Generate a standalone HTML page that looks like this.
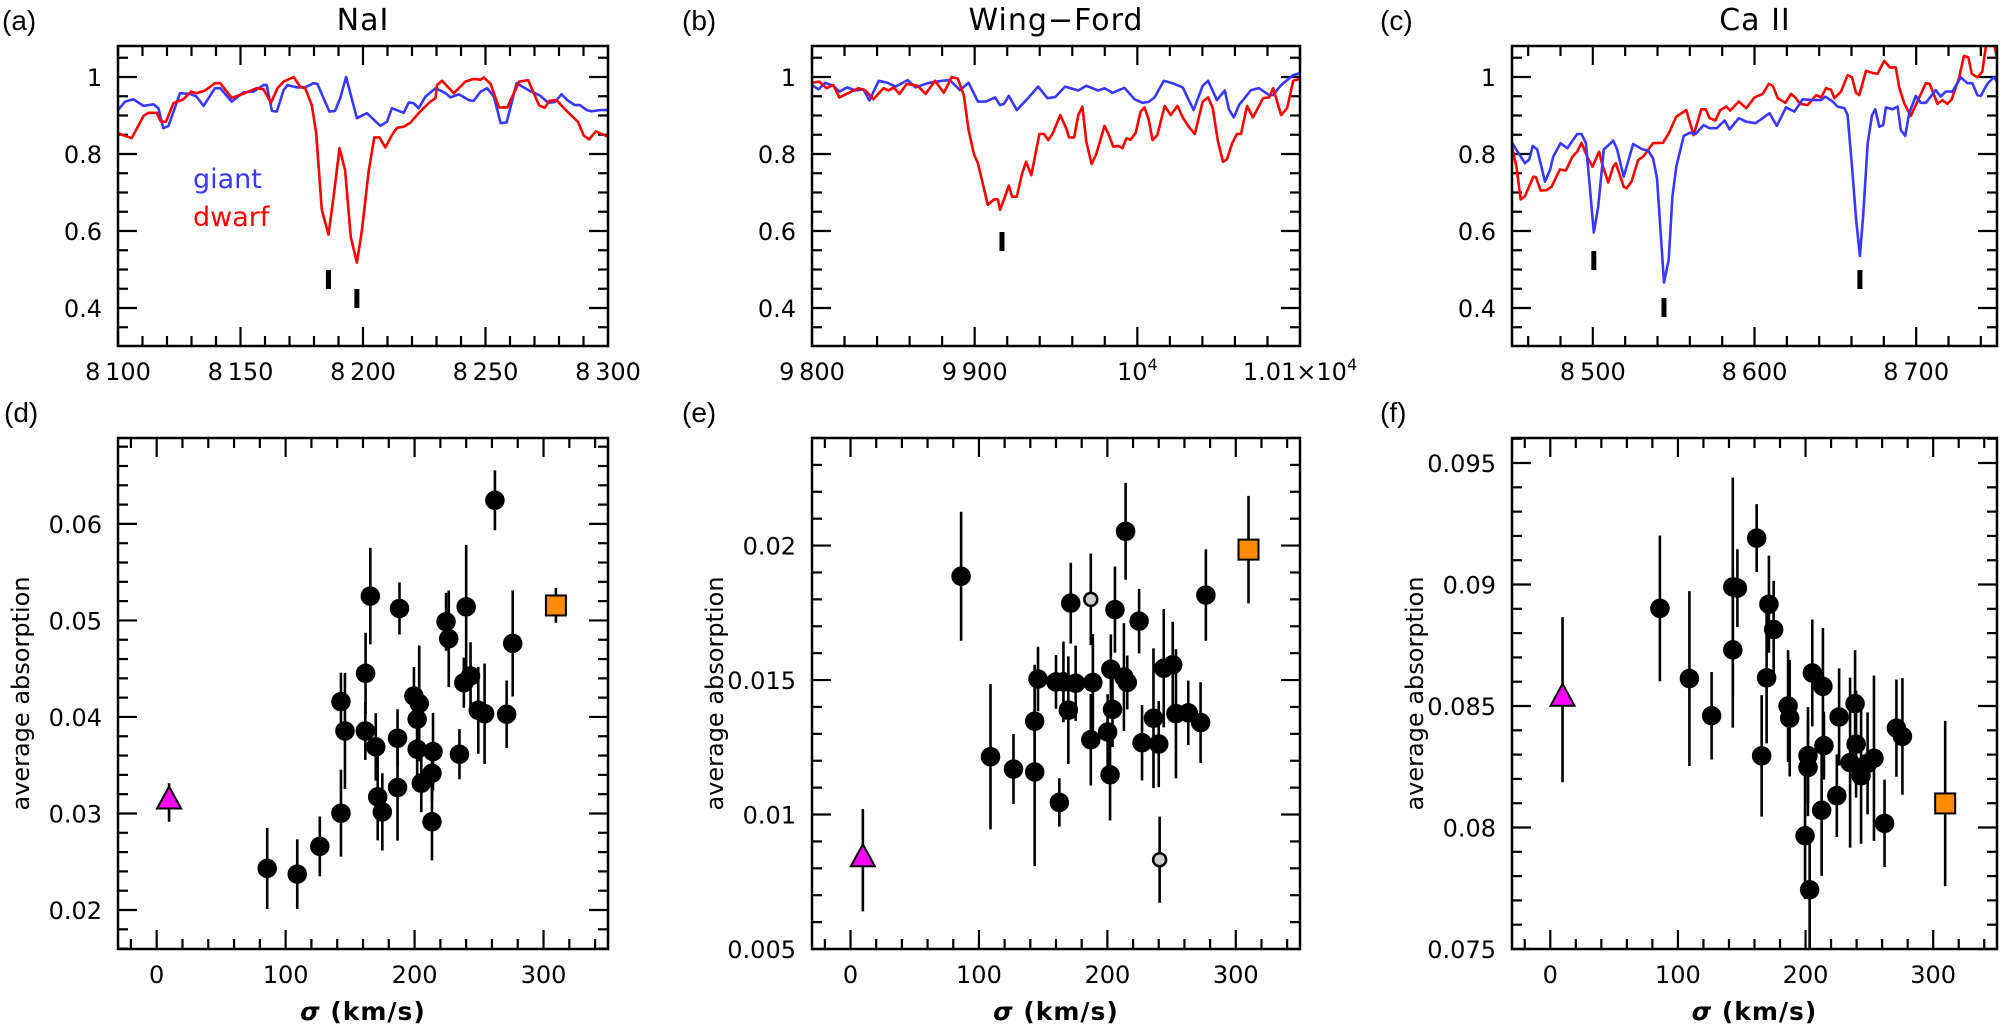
<!DOCTYPE html>
<html><head><meta charset="utf-8"><title>Spectral features figure</title>
<style>
html,body{margin:0;padding:0;background:#fff;}
svg{display:block;font-family:"DejaVu Sans","Liberation Sans",sans-serif;}
</style></head>
<body>
<svg id="chart" xmlns="http://www.w3.org/2000/svg" width="2006" height="1031" viewBox="0 0 2006 1031">
<rect x="0" y="0" width="2006" height="1031" fill="#fff"/>
</svg>
<script>
// ---------- panel (a) Na I ----------
const naWave = [8100,8102.9,8106.3,8110.4,8114.5,8116.5,8118.5,8120.6,8125.3,8129.4,8132.1,8134.9,8139.6,8141.7,8146.4,8151.2,8155.3,8159.4,8160.7,8162.8,8164.8,8167.6,8169.2,8173,8176.4,8179.8,8181.4,8186.3,8188.6,8190.7,8193.1,8197.5,8201.6,8207.1,8209.8,8211.8,8216.6,8218.7,8220.7,8222.7,8225.5,8229.6,8233.7,8235.7,8239.1,8243.2,8245.2,8248,8250.7,8253.4,8256.2,8258.6,8262.7,8268.1,8272.2,8275.6,8278.3,8281,8283.8,8286.5,8288.5,8291.3,8293.3,8296.7,8300];
const naGiant = [0.914,0.936,0.942,0.925,0.929,0.919,0.867,0.873,0.958,0.956,0.949,0.925,0.971,0.971,0.936,0.960,0.962,0.979,0.979,0.912,0.910,0.966,0.979,0.973,0.973,0.984,0.982,0.910,0.912,0.945,1.0,0.893,0.906,0.873,0.884,0.919,0.907,0.934,0.932,0.919,0.949,0.971,0.958,0.947,0.955,0.940,0.938,0.962,0.971,0.949,0.880,0.882,0.984,0.964,0.952,0.933,0.935,0.955,0.938,0.927,0.927,0.914,0.911,0.914,0.914];
const naDwarfWave = [8100,8105.6,8110.4,8112.4,8115.8,8117.5,8119.6,8122.6,8126.7,8129.7,8132.1,8135.5,8139.6,8141.7,8146.4,8150.5,8156.6,8159.4,8162.4,8165.1,8167.6,8171.7,8174.3,8176.4,8179.1,8180.9,8183.2,8185.9,8188,8190.4,8192.7,8195,8197.5,8199.6,8202.3,8204.6,8206.7,8209.1,8211.8,8213.9,8216.6,8219.3,8222.7,8227.5,8229.6,8230.2,8232.3,8237.1,8241.8,8245.2,8248,8249.3,8252.1,8255.5,8258.9,8263.7,8267.4,8271.9,8274.2,8276,8279,8282.4,8287.8,8290.1,8292.3,8295,8300];
const naDwarf = [0.854,0.841,0.899,0.907,0.907,0.884,0.884,0.932,0.942,0.962,0.958,0.965,0.984,0.984,0.946,0.955,0.971,0.968,0.933,0.971,0.988,1.0,0.975,0.971,0.927,0.854,0.655,0.591,0.689,0.815,0.758,0.584,0.518,0.603,0.754,0.843,0.843,0.817,0.849,0.868,0.871,0.881,0.906,0.936,0.945,0.979,0.990,0.958,0.988,0.995,0.993,0.999,0.982,0.921,0.921,0.988,0.992,0.926,0.920,0.938,0.940,0.916,0.883,0.848,0.838,0.859,0.845];
const naMarks = [8185.9,8197.5];

// ---------- panel (b) Wing-Ford ----------
const wfGiantWave = [9800,9804,9808.1,9813.1,9816.8,9821.7,9826.7,9831.6,9835.3,9841,9846.4,9851.4,9858.8,9863.7,9871.1,9879.8,9884.7,9890.9,9896.3,9902,9906.9,9912.6,9915.6,9918,9921,9925.9,9932.8,9939,9944.7,9949.6,9955.6,9963.7,9968.6,9976,9979.8,9984.7,9992.1,9998.3,10003.2,10006.9,10010.6,10016.3,10021.7,10027.9,10034.6,10040.2,10043.5,10048.9,10053.8,10056.3,10059.3,10062.5,10069.9,10074.8,10081,10083.5,10088.4,10095.8,10100];
const wfGiant = [0.979,0.968,0.985,0.977,0.962,0.973,0.965,0.968,0.939,0.990,0.985,0.975,0.992,0.973,0.984,0.990,0.992,0.966,0.985,0.936,0.936,0.947,0.927,0.930,0.951,0.914,0.945,0.975,0.945,0.948,0.975,0.965,0.977,0.965,0.971,0.959,0.972,0.942,0.933,0.935,0.947,0.990,0.984,0.973,0.914,0.977,0.990,0.940,0.965,0.916,0.895,0.927,0.966,0.971,0.953,0.953,0.979,1.005,1.01];
const wfDwarfWave = [9800,9804.4,9808.9,9813.1,9816.8,9824.2,9828.6,9832.8,9837.8,9843.9,9847.2,9850.1,9853.8,9858.3,9864.9,9869.9,9875.6,9881,9885.9,9889.6,9893.3,9896.3,9899.5,9902,9905.7,9908.1,9911.9,9914.3,9915.6,9918,9921,9923,9925.9,9929.1,9931.6,9934.8,9939.8,9942.7,9945.2,9948.1,9952.6,9956.3,9958,9961.2,9963.7,9966.2,9968.6,9971.9,9974.8,9979.8,9982.2,9985.2,9988.4,9990.9,9993.3,9995.8,9999,10002,10004.4,10006.9,10009.4,10012.3,10016.8,10020.5,10024.7,10027.9,10031.6,10035.3,10040.2,10043.5,10046.4,10049.4,10052.6,10055.1,10058.3,10061.2,10063.7,10067.4,10071.1,10074.8,10077.3,10081,10083.5,10088.4,10092.1,10095.8,10100];
const wfDwarf = [0.985,0.988,0.971,0.979,0.947,0.962,0.971,0.965,0.942,0.971,0.965,0.973,0.956,0.982,0.977,0.956,0.990,0.959,1.0,0.996,0.953,0.862,0.800,0.776,0.711,0.668,0.682,0.682,0.655,0.681,0.718,0.689,0.689,0.748,0.780,0.745,0.852,0.852,0.836,0.854,0.901,0.867,0.843,0.843,0.901,0.923,0.832,0.774,0.800,0.873,0.852,0.819,0.821,0.815,0.841,0.837,0.855,0.910,0.921,0.890,0.836,0.849,0.925,0.901,0.925,0.895,0.871,0.852,0.936,0.947,0.919,0.836,0.780,0.786,0.828,0.852,0.852,0.925,0.895,0.925,0.945,0.947,0.971,0.901,0.919,0.990,0.995];
const wfMarks = [9916.8];

// ---------- panel (c) Ca II ----------
const caGiantWave = [8450,8458,8460.7,8462.8,8465.6,8470.4,8473.5,8475.5,8480,8484.2,8490.3,8493,8495.7,8498.1,8500.6,8503.3,8506.8,8510.5,8512.6,8515,8519.1,8524.9,8530.7,8534.2,8537.2,8539.7,8544,8546.9,8549.2,8551.6,8556.2,8559.9,8563.6,8568.5,8572.2,8576.7,8581.5,8584.6,8590.3,8594.9,8600.6,8605.1,8609.3,8613.8,8619.5,8624.7,8629.8,8636,8641.2,8643.8,8648.4,8651.4,8655.6,8657.6,8660.3,8662.8,8665.2,8667.3,8670,8672.7,8674.7,8677.2,8679.6,8681.3,8685.4,8688.5,8690.5,8693.2,8695.7,8699.8,8702.9,8706,8712.1,8715.2,8718.3,8722.4,8727.6,8731.7,8734.8,8737.9,8739.9,8744,8748.1,8750];
const caGiant = [0.829,0.776,0.786,0.821,0.812,0.728,0.758,0.793,0.828,0.815,0.852,0.852,0.828,0.715,0.596,0.663,0.812,0.826,0.835,0.812,0.741,0.826,0.812,0.809,0.789,0.737,0.466,0.525,0.689,0.767,0.847,0.855,0.852,0.875,0.867,0.867,0.887,0.864,0.893,0.884,0.880,0.893,0.906,0.873,0.921,0.910,0.942,0.940,0.940,0.949,0.936,0.923,0.919,0.901,0.767,0.633,0.535,0.645,0.828,0.901,0.916,0.871,0.875,0.921,0.916,0.923,0.862,0.847,0.906,0.951,0.933,0.933,0.966,0.949,0.962,0.962,0.999,0.984,0.984,0.953,0.951,0.982,1.0,0.988];
const caDwarfWave = [8450,8452.9,8455.3,8458,8463.2,8464.8,8467.7,8471.4,8474.5,8479.6,8483.3,8487.4,8490.3,8493,8496.5,8499.8,8503.9,8506,8509.5,8512.6,8514.2,8519.1,8520.8,8523.9,8528,8531.5,8537.2,8543.4,8547.1,8551.6,8557.8,8562.3,8567.1,8569.8,8572.2,8575.9,8578.8,8582.5,8585,8590.3,8594.9,8600,8605.1,8608.8,8611.3,8614.4,8619.1,8622.6,8625.7,8628.2,8632.9,8638.1,8641.2,8644.2,8647.3,8649.4,8653.5,8657.6,8660.3,8662.8,8664.8,8669,8672.7,8676.1,8680.2,8683.7,8687.4,8689.5,8692.6,8696.7,8701.4,8706,8708.4,8713.2,8716.3,8719.3,8722,8726.5,8729.6,8732.3,8734.4,8737.9,8740.9,8743.4,8748.1,8750];
const caDwarf = [0.819,0.763,0.682,0.690,0.741,0.740,0.705,0.706,0.715,0.760,0.757,0.793,0.806,0.829,0.793,0.767,0.806,0.771,0.726,0.767,0.776,0.715,0.711,0.728,0.784,0.795,0.828,0.829,0.855,0.897,0.914,0.849,0.916,0.916,0.893,0.887,0.914,0.923,0.913,0.936,0.919,0.947,0.956,0.982,0.977,0.945,0.933,0.956,0.945,0.930,0.927,0.953,0.947,0.971,0.967,0.945,0.962,1.005,0.999,0.959,0.953,1.016,1.011,1.008,1.042,1.025,1.025,0.973,0.932,0.899,0.942,0.984,0.982,0.930,0.940,0.930,0.942,0.997,1.055,1.051,1.008,0.999,1.014,1.087,1.087,1.049];
const caMarks = [8500.6,8544,8665.2];

// ---------- panel (d) NaI vs sigma ----------
const dSigma = [85.7,109,126.5,142.9,142.9,146,162,165.7,161.8,169.9,171.4,175,188.3,186.8,186.8,199.5,203.6,202,202,205.2,213.5,214.3,213.5,224.4,226.5,234.8,240,238.2,243.4,249.4,254.3,262.3,271.4,276.1];
const dAbs = [0.02431,0.02372,0.02659,0.03003,0.04159,0.03855,0.04452,0.05252,0.03855,0.03690,0.03172,0.03017,0.05124,0.0378,0.03269,0.04217,0.0414,0.03976,0.03666,0.03314,0.03417,0.03641,0.02914,0.04986,0.0481,0.03614,0.05141,0.04355,0.04424,0.04069,0.04034,0.06245,0.04028,0.04762];
const dErr = [0.0042,0.0036,0.0031,0.0045,0.003,0.006,0.0042,0.005,0.003,0.0035,0.0045,0.004,0.0027,0.003,0.0055,0.003,0.006,0.003,0.0035,0.003,0.003,0.004,0.004,0.003,0.005,0.0026,0.0064,0.0026,0.0035,0.0045,0.0052,0.0031,0.0035,0.0055];
const dTri = [9.6,0.03114,0.002];
const dSq = [309.6,0.05155,0.0018];

// ---------- panel (e) Wing-Ford vs sigma ----------
const eSigma = [86.1,109,126.9,143.4,143.4,146,162.6,160,165.8,169.6,171.5,175.3,187.1,188.7,200.2,202.1,202.7,204,205.9,212.9,215.5,214.2,224.7,227,235.9,240,243.9,250.9,253.4,263,272.6,276.7];
const eAbs = [0.01886,0.01215,0.01169,0.01347,0.01158,0.01504,0.01045,0.01493,0.01493,0.01388,0.01786,0.01488,0.01278,0.01491,0.01307,0.01148,0.0154,0.01391,0.01762,0.01511,0.01491,0.02053,0.01719,0.01267,0.01358,0.01262,0.01544,0.01557,0.01375,0.01378,0.01342,0.01816];
const eErr = [0.0024,0.0027,0.0013,0.0021,0.0035,0.0012,0.0009,0.001,0.0015,0.002,0.0015,0.0014,0.0017,0.0018,0.0014,0.0017,0.0013,0.0014,0.0016,0.002,0.001,0.0018,0.0012,0.0014,0.0026,0.0016,0.0022,0.0016,0.0024,0.0012,0.0015,0.0017];
const eGreySigma = [187.1,240.7];
const eGreyAbs = [0.018,0.00832];
const eGreyErr = [0.0017,0.0016];
const eTri = [9.6,0.0083,0.0019];
const eSq = [309.9,0.01985,0.002];

// ---------- panel (f) CaII vs sigma ----------
const fSigma = [85.9,109,126.4,143,146.6,143,161.7,165.6,171.3,175,169.5,186.3,187.6,201.9,201.9,199.6,203.2,205.3,213.6,214.4,212.6,226.3,224.5,234.9,238.8,239.6,243.5,248.6,253.6,261.9,271.2,275.9];
const fAbs = [0.08902,0.08613,0.0846,0.0899,0.08985,0.08731,0.09191,0.08295,0.08919,0.08815,0.08616,0.085,0.0845,0.08296,0.08247,0.07966,0.07744,0.08636,0.08581,0.08337,0.08071,0.08455,0.08131,0.08267,0.0851,0.08343,0.08213,0.08264,0.08285,0.08017,0.08409,0.08375];
const fErr = [0.003,0.0036,0.0018,0.0045,0.0016,0.0032,0.0014,0.0025,0.002,0.002,0.0027,0.0023,0.0024,0.002,0.002,0.0026,0.0025,0.0022,0.0024,0.0014,0.0027,0.002,0.0017,0.0035,0.0022,0.0022,0.0028,0.0021,0.0034,0.0018,0.002,0.0024];
const fTri = [9.6,0.08526,0.0034];
const fSq = [309.4,0.08099,0.0034];

const NS = "http://www.w3.org/2000/svg";
const svg = document.getElementById('chart');
function mk(tag, attrs, parent) {
  const e = document.createElementNS(NS, tag);
  for (const k in attrs) e.setAttribute(k, attrs[k]);
  (parent || svg).appendChild(e);
  return e;
}
function txt(s, attrs, parent) {
  const e = mk('text', attrs, parent);
  e.textContent = s;
  return e;
}
function fmt(v){ return String(+v.toFixed(6)); }

function panel(cfg) {
  const g = mk('g', {});
  
  
  const sx = v => cfg.x0 + (v - cfg.xmin) / (cfg.xmax - cfg.xmin) * (cfg.x1 - cfg.x0);
  const sy = v => cfg.y1 - (v - cfg.ymin) / (cfg.ymax - cfg.ymin) * (cfg.y1 - cfg.y0);
  const cid = 'clip-' + cfg.name;
  const cp = mk('clipPath', {id: cid}, g);
  mk('rect', {x: cfg.x0, y: cfg.y0, width: cfg.x1 - cfg.x0, height: cfg.y1 - cfg.y0}, cp);
  // ticks
  const tg = mk('g', {stroke: '#000', 'stroke-width': 2.2}, g);
  
  
  for (let i = 0; ; i++) {
    const v = cfg.xtStart + i * cfg.xtStep;
    if (v > cfg.xmax + 1e-9) break;
    if (v < cfg.xmin - 1e-9) continue;
    const major = Math.abs(((v - cfg.xMajBase) / cfg.xMaj) - Math.round((v - cfg.xMajBase) / cfg.xMaj)) < 1e-6;
    const L = major ? 19 : 10, x = sx(v);
    mk('line', {x1: x, x2: x, y1: cfg.y1, y2: cfg.y1 - L}, tg);
    mk('line', {x1: x, x2: x, y1: cfg.y0, y2: cfg.y0 + L}, tg);
  }
  for (let i = 0; ; i++) {
    const v = cfg.ytStart + i * cfg.ytStep;
    if (v > cfg.ymax + 1e-9) break;
    if (v < cfg.ymin - 1e-9) continue;
    const r = (v - cfg.yMajBase) / cfg.yMaj;
    const major = Math.abs(r - Math.round(r)) < 1e-4;
    const L = major ? 19 : 10, y = sy(v);
    mk('line', {x1: cfg.x0, x2: cfg.x0 + L, y1: y, y2: y}, tg);
    mk('line', {x1: cfg.x1, x2: cfg.x1 - L, y1: y, y2: y}, tg);
  }
  // tick labels
  cfg.xLabels.forEach((s, i) => {
    const t = txt('', {x: sx(cfg.xLabelVals[i]), y: cfg.y1 + 34, 'font-size': 24, 'text-anchor': 'middle', fill: '#000'}, g);
    t.innerHTML = s;
    
    
  });
  cfg.yLabels.forEach((s, i) => {
    const t = txt(s, {x: cfg.x0 - 16, y: sy(cfg.yLabelVals[i]) + 9, 'font-size': 24, 'text-anchor': 'end', fill: '#000'}, g);
    
    
  });
  const pl = txt(cfg.letter, {x: cfg.letterX, y: cfg.y0 - 16, 'font-size': 28, fill: '#000', 'font-family': '"Liberation Sans", sans-serif'}, g);
  
  
  const plot = mk('g', {'clip-path': 'url(#' + cid + ')'}, g);
  
  
  const frame = mk('rect', {x: cfg.x0, y: cfg.y0, width: cfg.x1 - cfg.x0, height: cfg.y1 - cfg.y0, fill: 'none', stroke: '#000', 'stroke-width': 2.5}, g);
  
  
  return {g, plot, sx, sy};
}

function spectrum(p, wave, flux, color, name) {
  const pts = wave.map((w, i) => p.sx(w).toFixed(1) + ',' + p.sy(flux[i]).toFixed(1)).join(' ');
  const l = mk('polyline', {points: pts, fill: 'none', stroke: color, 'stroke-width': 2.6, 'stroke-linejoin': 'round'}, p.plot);
  
  
}
function marks(p, waves, ys) {
  waves.forEach((w, i) => {
    const r = mk('rect', {x: p.sx(w) - 2.5, y: ys[i], width: 5, height: 19, fill: '#000'}, p.plot);
    
    
  });
}
function titleText(s, x, name) {
  const t = txt(s, {x: x, y: 30, 'font-size': 30, 'text-anchor': 'middle', fill: '#000', 'letter-spacing': 1}, svg);
  
  
}

const topY = {y0: 46, y1: 346, ymin: 0.3013, ymax: 1.0805, ytStart: 0.35, ytStep: 0.05, yMaj: 0.2, yMajBase: 0.4, yLabels: ['0.4','0.6','0.8','1'], yLabelVals: [0.4,0.6,0.8,1.0]};
const pa = panel(Object.assign({name: 'panel-a-nai-spectrum', x0: 118, x1: 608, xmin: 8100, xmax: 8300, xtStart: 8100, xtStep: 10, xMaj: 50, xMajBase: 8100,
  xLabels: ['8&#8201;100','8&#8201;150','8&#8201;200','8&#8201;250','8&#8201;300'], xLabelVals: [8100,8150,8200,8250,8300], letter: '(a)', letterX: 2}, topY));
const pb = panel(Object.assign({name: 'panel-b-wing-ford-spectrum', x0: 812, x1: 1300, xmin: 9800, xmax: 10100, xtStart: 9800, xtStep: 20, xMaj: 100, xMajBase: 9800,
  xLabels: ['9&#8201;800','9&#8201;900','10<tspan dy="-10" font-size="16">4</tspan>','1.01×10<tspan dy="-10" font-size="16">4</tspan>'], xLabelVals: [9800,9900,10000,10100], letter: '(b)', letterX: 682}, topY));
const pc = panel(Object.assign({name: 'panel-c-caii-spectrum', x0: 1512, x1: 1997, xmin: 8450, xmax: 8750, xtStart: 8460, xtStep: 20, xMaj: 100, xMajBase: 8500,
  xLabels: ['8&#8201;500','8&#8201;600','8&#8201;700'], xLabelVals: [8500,8600,8700], letter: '(c)', letterX: 1380}, topY));

spectrum(pa, naWave, naGiant, '#3838ff', 'giant-spectrum-line');
spectrum(pa, naDwarfWave, naDwarf, '#ff0000', 'dwarf-spectrum-line');
marks(pa, naMarks, [270, 289]);
spectrum(pb, wfGiantWave, wfGiant, '#3838ff', 'giant-spectrum-line');
spectrum(pb, wfDwarfWave, wfDwarf, '#ff0000', 'dwarf-spectrum-line');
marks(pb, wfMarks, [232]);
spectrum(pc, caDwarfWave, caDwarf, '#ff0000', 'dwarf-spectrum-line');
spectrum(pc, caGiantWave, caGiant, '#3838ff', 'giant-spectrum-line');
marks(pc, caMarks, [251, 298, 270]);

titleText('NaI', 363, 'title-nai');
titleText('Wing\u2212Ford', 1056, 'title-wing-ford');
titleText('Ca II', 1755, 'title-caii');
const lg1 = txt('giant', {x: 193, y: 188, 'font-size': 27, fill: '#3838ff'});


const lg2 = txt('dwarf', {x: 193, y: 226, 'font-size': 27, fill: '#ff0000'});



const botX = {y0: 438, y1: 949, xmin: -30, xmax: 350, xtStart: -20, xtStep: 20, xMaj: 100, xMajBase: 0, xLabels: ['0','100','200','300'], xLabelVals: [0,100,200,300]};
const pd = panel(Object.assign({name: 'panel-d-nai-vs-sigma', x0: 118, x1: 608, ymin: 0.01596, ymax: 0.0689, ytStart: 0.016, ytStep: 0.002, yMaj: 0.01, yMajBase: 0.02,
  yLabels: ['0.02','0.03','0.04','0.05','0.06'], yLabelVals: [0.02,0.03,0.04,0.05,0.06], letter: '(d)', letterX: 4}, botX));
const pe = panel(Object.assign({name: 'panel-e-wing-ford-vs-sigma', x0: 812, x1: 1300, ymin: 0.005, ymax: 0.024, ytStart: 0.005, ytStep: 0.001, yMaj: 0.005, yMajBase: 0.005,
  yLabels: ['0.005','0.01','0.015','0.02'], yLabelVals: [0.005,0.01,0.015,0.02], letter: '(e)', letterX: 682}, botX));
const pf = panel(Object.assign({name: 'panel-f-caii-vs-sigma', x0: 1512, x1: 1997, ymin: 0.075, ymax: 0.09603, ytStart: 0.075, ytStep: 0.001, yMaj: 0.005, yMajBase: 0.075,
  yLabels: ['0.075','0.08','0.085','0.09','0.095'], yLabelVals: [0.075,0.08,0.085,0.09,0.095], letter: '(f)', letterX: 1380}, botX));

function errbar(p, x, y, e) {
  const l = mk('line', {x1: p.sx(x), x2: p.sx(x), y1: p.sy(y - e), y2: p.sy(y + e), stroke: '#000', 'stroke-width': 2.6}, p.plot);
  
  
}
function scatter(p, xs, ys, es, fill, r, name) {
  xs.forEach((x, i) => errbar(p, x, ys[i], es[i]));
  xs.forEach((x, i) => {
    const c = mk('circle', {cx: p.sx(x), cy: p.sy(ys[i]), r: r, fill: fill, stroke: '#000', 'stroke-width': 2.5}, p.plot);
    
    
  });
}
function tri(p, d) {
  errbar(p, d[0], d[1], d[2]);
  const x = p.sx(d[0]), y = p.sy(d[1]);
  const t = mk('polygon', {points: (x) + ',' + (y - 16) + ' ' + (x - 12) + ',' + (y + 6) + ' ' + (x + 12) + ',' + (y + 6), fill: '#ff00ff', stroke: '#000', 'stroke-width': 2}, p.plot);
  
  
}
function sq(p, d) {
  errbar(p, d[0], d[1], d[2]);
  const s = mk('rect', {x: p.sx(d[0]) - 10, y: p.sy(d[1]) - 10, width: 20, height: 20, fill: '#ff8c00', stroke: '#000', 'stroke-width': 2}, p.plot);
  
  
}
scatter(pd, dSigma, dAbs, dErr, '#000', 8.5, 'galaxy-point');
tri(pd, dTri); sq(pd, dSq);
scatter(pe, eSigma, eAbs, eErr, '#000', 8.5, 'galaxy-point');
scatter(pe, eGreySigma, eGreyAbs, eGreyErr, '#cccccc', 6.5, 'grey-point');
tri(pe, eTri); sq(pe, eSq);
scatter(pf, fSigma, fAbs, fErr, '#000', 8.5, 'galaxy-point');
tri(pf, fTri); sq(pf, fSq);

[[pd,118,608],[pe,812,1300],[pf,1512,1997]].forEach(a => {
  const t = txt('', {x: (a[1] + a[2]) / 2, y: 1020, 'font-size': 25, 'text-anchor': 'middle', 'font-weight': 'bold', fill: '#000', 'letter-spacing': 1});
  t.innerHTML = '<tspan font-style="italic">σ</tspan>  (km/s)';
  
  
  const cy = (438 + 949) / 2, cx = a[1] - 96;
  const y = txt('average  absorption', {x: cx, y: cy, 'font-size': 24, 'text-anchor': 'middle', fill: '#000', transform: 'rotate(-90 ' + cx + ' ' + cy + ')', 'dominant-baseline': 'middle'});
  
  
});
</script>
</body></html>
